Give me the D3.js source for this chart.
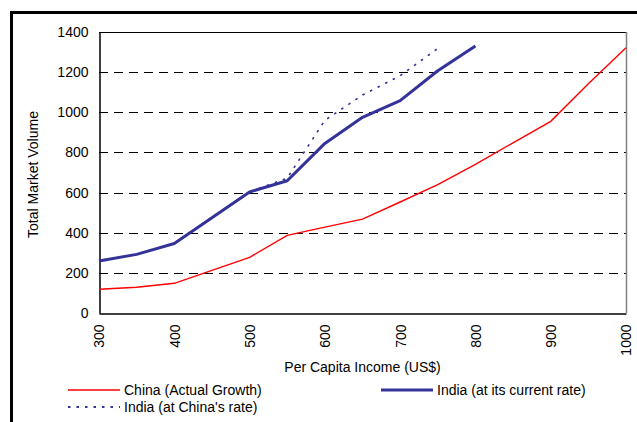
<!DOCTYPE html>
<html>
<head>
<meta charset="utf-8">
<script src="https://cdn.jsdelivr.net/npm/d3@7"></script>
<style>
  html, body { margin: 0; padding: 0; background: #fff; }
  svg { display: block; }
  text { font-family: "Liberation Sans", Arial, sans-serif; fill: #000; }
</style>
</head>
<body>
<svg id="chart" width="637" height="422"></svg>
<script>
// ---- data ----
const chinaIncome = [300, 350, 400, 450, 500, 550, 600, 650, 700, 750, 800, 850, 900, 950, 1000];
const chinaVolume = [118, 128, 148, 212, 277, 387, 428, 468, 553, 640, 740, 848, 955, 1142, 1322];

const indiaIncome = [300, 350, 400, 450, 500, 550, 600, 650, 700, 750, 800];
const indiaVolume = [259, 292, 346, 475, 603, 659, 845, 975, 1058, 1207, 1330];

const indiaChinaRateIncome = [300, 350, 400, 450, 500, 550, 600, 650, 700, 750];
const indiaChinaRateVolume = [259, 293, 347, 477, 604, 672, 960, 1086, 1182, 1318];

const xTicks = [300, 400, 500, 600, 700, 800, 900, 1000];
const yTicks = [0, 200, 400, 600, 800, 1000, 1200, 1400];
const gridValues = [200, 400, 600, 800, 1000, 1200];

const seriesNames = ["China (Actual Growth)", "India (at its current rate)", "India (at China's rate)"];
const xTitle = "Per Capita Income (US$)";
const yTitle = "Total Market Volume";

// ---- layout ----
const svg = d3.select("#chart");
const pL = 99, pR = 626, pT = 32, pB = 313;

const x = d3.scaleLinear().domain([300, 1000]).range([pL, pR]);
const y = d3.scaleLinear().domain([0, 1400]).range([pB, pT]);

// outer frame
svg.append("rect")
  .attr("x", 11.5).attr("y", 12.5)
  .attr("width", 700).attr("height", 500)
  .attr("fill", "none").attr("stroke", "#000").attr("stroke-width", 3);

// gridlines
svg.append("g").selectAll("line").data(gridValues).join("line")
  .attr("x1", pL).attr("x2", pR)
  .attr("y1", d => Math.round(y(d)) + 0.5).attr("y2", d => Math.round(y(d)) + 0.5)
  .attr("stroke", "#000").attr("stroke-width", 1)
  .attr("stroke-dasharray", "9,6");

// plot border
svg.append("line").attr("x1", pL).attr("x2", pR).attr("y1", pT + 0.5).attr("y2", pT + 0.5)
  .attr("stroke", "#000").attr("stroke-width", 1);
svg.append("line").attr("x1", pR + 0.5).attr("x2", pR + 0.5).attr("y1", pT).attr("y2", pB)
  .attr("stroke", "#808080").attr("stroke-width", 1.5);

// y axis
const yAxis = svg.append("g")
  .attr("transform", `translate(${pL + 0.5},0)`)
  .call(d3.axisLeft(y).tickValues(yTicks).tickSize(0).tickPadding(11).tickFormat(d3.format("d")));
yAxis.select(".domain").attr("stroke", "#000").attr("stroke-width", 1.5);
yAxis.selectAll("text").style("font-size", "14px").style("font-family", '"Liberation Sans", Arial, sans-serif').attr("fill", "#000");

// x axis
const xAxis = svg.append("g")
  .attr("transform", `translate(0,${pB + 0.5})`)
  .call(d3.axisBottom(x).tickValues(xTicks).tickSize(0).tickFormat(d3.format("d")));
xAxis.select(".domain").attr("stroke", "#000").attr("stroke-width", 1.5);
xAxis.selectAll("text")
  .style("font-size", "14px").style("font-family", '"Liberation Sans", Arial, sans-serif').attr("fill", "#000")
  .attr("text-anchor", "end")
  .attr("transform", "rotate(-90)")
  .attr("x", -11)
  .attr("y", 0)
  .attr("dy", "0.35em");

// axis titles
svg.append("text")
  .attr("x", (pL + pR) / 2).attr("y", 372)
  .attr("text-anchor", "middle")
  .style("font-size", "14px")
  .text(xTitle);

svg.append("text")
  .attr("transform", `translate(38,${(pT + pB) / 2 + 2}) rotate(-90)`)
  .attr("text-anchor", "middle")
  .style("font-size", "14px")
  .text(yTitle);

// lines
const line = d3.line().x(d => x(d[0])).y(d => y(d[1]));

svg.append("path")
  .datum(d3.zip(chinaIncome, chinaVolume))
  .attr("d", line)
  .attr("fill", "none").attr("stroke", "#ff0000").attr("stroke-width", 1.4);

svg.append("path")
  .datum(d3.zip(indiaChinaRateIncome, indiaChinaRateVolume))
  .attr("d", line)
  .attr("fill", "none").attr("stroke", "#333399").attr("stroke-width", 1.6)
  .attr("stroke-dasharray", "2.5,6");

svg.append("path")
  .datum(d3.zip(indiaIncome, indiaVolume))
  .attr("d", line)
  .attr("fill", "none").attr("stroke", "#333399").attr("stroke-width", 3)
  .attr("stroke-linejoin", "round");

// legend
const legend = [
  { name: seriesNames[0], x: 68, y: 390, color: "#ff0000", w: 1.5, dash: null },
  { name: seriesNames[1], x: 381, y: 390, color: "#333399", w: 3, dash: null },
  { name: seriesNames[2], x: 68, y: 407, color: "#333399", w: 1.8, dash: "2.5,6" }
];
const lg = svg.append("g").selectAll("g").data(legend).join("g");
lg.append("line")
  .attr("x1", d => d.x).attr("x2", d => d.x + 52)
  .attr("y1", d => d.y).attr("y2", d => d.y)
  .attr("stroke", d => d.color).attr("stroke-width", d => d.w)
  .attr("stroke-dasharray", d => d.dash);
lg.append("text")
  .attr("x", d => d.x + 56).attr("y", d => d.y + 5)
  .style("font-size", "14px")
  .text(d => d.name);
</script>
</body>
</html>
